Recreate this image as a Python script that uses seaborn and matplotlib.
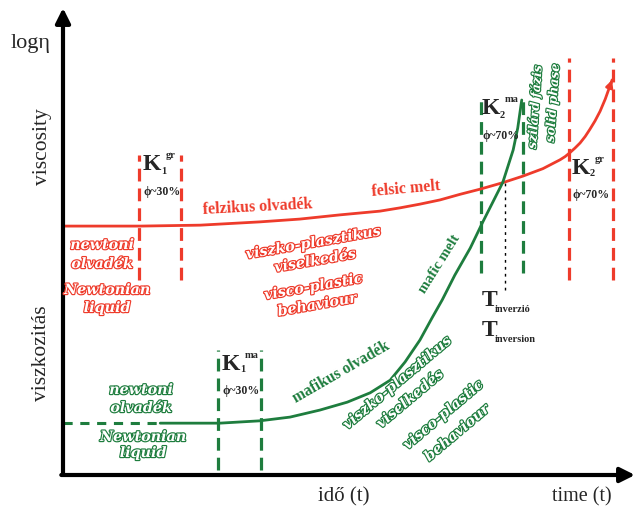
import matplotlib
matplotlib.use('Agg')
import matplotlib.pyplot as plt
import matplotlib.patheffects as pe
import seaborn as sns
import pandas as pd

# ---------------- data (schematic: time t vs log viscosity) ----------------
felsic_t = [0, 13.5, 24.0, 34.4, 41.4, 48.4, 55.4, 58.9, 62.4, 65.9, 69.4, 72.9,
            76.9, 80.4, 83.9, 86.9, 87.8, 88.6, 89.5, 90.4, 91.3, 92.1, 93.0,
            93.9, 94.8, 95.5, 96.0]
felsic_v = [53.3, 53.3, 53.5, 54.2, 54.8, 55.7, 56.5, 57.2, 58.0, 58.9, 60.1, 61.2,
            62.6, 64.0, 65.6, 67.5, 68.2, 69.0, 70.0, 71.1, 72.5, 74.0, 75.8,
            77.9, 80.5, 82.9, 84.6]

mafic_newtonian_t = [0, 17.0]
mafic_newtonian_v = [11.1, 11.1]
mafic_t = [17.0, 27.4, 34.4, 39.7, 44.9, 49.7, 53.7, 57.2, 59.8, 62.4, 64.5,
           66.3, 68.5, 71.2, 73.4, 75.5, 76.9, 78.7, 79.5, 80.2]
mafic_v = [11.1, 11.1, 11.6, 12.4, 13.9, 15.6, 17.6, 20.3, 24.2, 28.9, 33.6,
           37.5, 42.8, 48.6, 54.2, 59.3, 62.7, 69.6, 74.3, 80.3]

zone_names = ['K1gr', 'K2gr', 'K1ma', 'K2ma']
zone_left = [13.3, 88.5, 27.1, 73.1]
zone_right = [20.6, 96.2, 34.6, 80.4]
zone_bottom = [41.8, 41.8, 1.1, 43.3]
zone_top = [68.5, 89.3, 26.8, 81.4]
zone_melt = ['felsic', 'felsic', 'mafic', 'mafic']

inversion_t = [77.3, 77.3]
inversion_v = [39.6, 62.7]

# ---------------- style ----------------
RED = '#ee3b2b'
GREEN = '#1e7d3e'
melt_color = {'felsic': RED, 'mafic': GREEN}

sns.set_theme(style='white')
plt.rcParams['font.family'] = ['Liberation Serif', 'DejaVu Serif']

W, H = 639, 511
fig = plt.figure(figsize=(W / 100, H / 100), dpi=100)
ax = fig.add_axes([63 / W, 36 / H, 572 / W, 467 / H])
ax.set_xlim(0, 100)
ax.set_ylim(0, 100)
ax.axis('off')

# axes arrows
ax.annotate('', xy=(0, 1.0), xytext=(0, 0), xycoords='axes fraction',
            arrowprops=dict(arrowstyle='-|>', lw=3, color='black', mutation_scale=22,
                            shrinkA=0, shrinkB=0))
ax.annotate('', xy=(1.0, 0), xytext=(-0.003, 0), xycoords='axes fraction',
            arrowprops=dict(arrowstyle='-|>', lw=3, color='black', mutation_scale=22,
                            shrinkA=0, shrinkB=0))

# zones (dashed vertical boundaries)
for n, l, r, b, t, m in zip(zone_names, zone_left, zone_right, zone_bottom, zone_top, zone_melt):
    for xx in (l, r):
        ax.plot([xx, xx], [b, t], color=melt_color[m], lw=2.3, ls=(0, (4, 2.2)))

# inversion dotted
ax.plot(inversion_t, inversion_v, color='black', lw=1.0, ls=(0, (2, 3)))

# curves
df_f = pd.DataFrame({'t': felsic_t, 'v': felsic_v})
sns.lineplot(data=df_f, x='t', y='v', ax=ax, color=RED, lw=2, sort=False)
ax.annotate('', xy=(felsic_t[-1], felsic_v[-1]), xytext=(felsic_t[-2], felsic_v[-2]),
            arrowprops=dict(arrowstyle='-|>', color=RED, lw=2, mutation_scale=10,
                            shrinkA=0, shrinkB=0))
df_mn = pd.DataFrame({'t': mafic_newtonian_t, 'v': mafic_newtonian_v})
sns.lineplot(data=df_mn, x='t', y='v', ax=ax, color=GREEN, lw=2.2, sort=False,
             linestyle=(0, (3, 2.5)))
df_m = pd.DataFrame({'t': mafic_t, 'v': mafic_v})
sns.lineplot(data=df_m, x='t', y='v', ax=ax, color=GREEN, lw=2, sort=False)


# ---------------- texts (pixel-positioned) ----------------
def T(x, y, s, **kw):
    kw.setdefault('ha', 'center')
    kw.setdefault('va', 'center')
    return fig.text(x / W, 1 - y / H, s, **kw)


def hollow(x, y, s, color, size=10.3, rot=0):
    T(x, y, s, color='white', fontsize=size, fontweight='bold', fontstyle='italic',
      family='DejaVu Serif', rotation=rot, rotation_mode='anchor',
      path_effects=[pe.withStroke(linewidth=1.7, foreground=color)])


# axis labels
T(31, 43, 'log\u03b7', fontsize=16)
T(42, 147, 'viscosity', fontsize=15.5, rotation=90)
T(42, 353, 'viszkozitás', fontsize=15.5, rotation=90)
T(344, 497, 'idő (t)', fontsize=15)
T(582, 497, 'time (t)', fontsize=14.5)


# K labels
def klabel(x, y, sub, sup, phi):
    T(x, y, 'K', fontsize=17, fontweight='bold', ha='left')
    T(x + 18, y + 6, sub, fontsize=7.5, fontweight='bold', ha='left')
    T(x + 23, y - 9, sup, fontsize=7.5, fontweight='bold', ha='left')
    T(x + 19, y + 27, phi, fontsize=8.5, fontweight='bold')


klabel(143, 165, '1', 'gr', '\u03d5~30%')
klabel(222, 364, '1', 'ma', '\u03d5~30%')
klabel(482, 109, '2', 'ma', '\u03d5~70%')
klabel(572, 168, '2', 'gr', '\u03d5~70%')

# inversion
T(482, 300, 'T', fontsize=17, fontweight='bold', ha='left')
T(495, 309, 'inverzió', fontsize=7.5, fontweight='bold', ha='left')
T(482, 330, 'T', fontsize=17, fontweight='bold', ha='left')
T(495, 340, 'inversion', fontsize=7.5, fontweight='bold', ha='left')

# melt labels
T(258, 207, 'felzikus olvadék', fontsize=11.5, fontweight='bold', color=RED, rotation=3)
T(406, 189, 'felsic melt', fontsize=11.5, fontweight='bold', color=RED, rotation=5)
T(341, 372, 'mafikus olvadék', fontsize=11.2, fontweight='bold', color=GREEN, rotation=30)
T(440, 264, 'mafic melt', fontsize=10.5, fontweight='bold', color=GREEN, rotation=58)

# behaviour labels (hollow)
hollow(102, 245, 'newtoni', RED)
hollow(102, 264, 'olvadék', RED)
hollow(107, 290, 'Newtonian', RED)
hollow(107, 308, 'liquid', RED)
hollow(313, 243, 'viszko-plasztikus', RED, rot=10)
hollow(315, 261, 'viselkedés', RED, rot=10)
hollow(313, 287, 'visco-plastic', RED, rot=10)
hollow(317, 305, 'behaviour', RED, rot=10)

hollow(141, 390, 'newtoni', GREEN)
hollow(141, 408, 'olvadék', GREEN)
hollow(143, 437, 'Newtonian', GREEN)
hollow(143, 453, 'liquid', GREEN)
hollow(397, 383, 'viszko-plasztikus', GREEN, rot=40)
hollow(410, 399, 'viselkedés', GREEN, rot=40)
hollow(443, 415, 'visco-plastic', GREEN, rot=40)
hollow(457, 433, 'behaviour', GREEN, rot=40)

hollow(535, 107, 'szilárd fázis', GREEN, size=9, rot=86)
hollow(553, 103, 'solid phase', GREEN, size=9, rot=86)

fig.savefig('out.png', dpi=100)
